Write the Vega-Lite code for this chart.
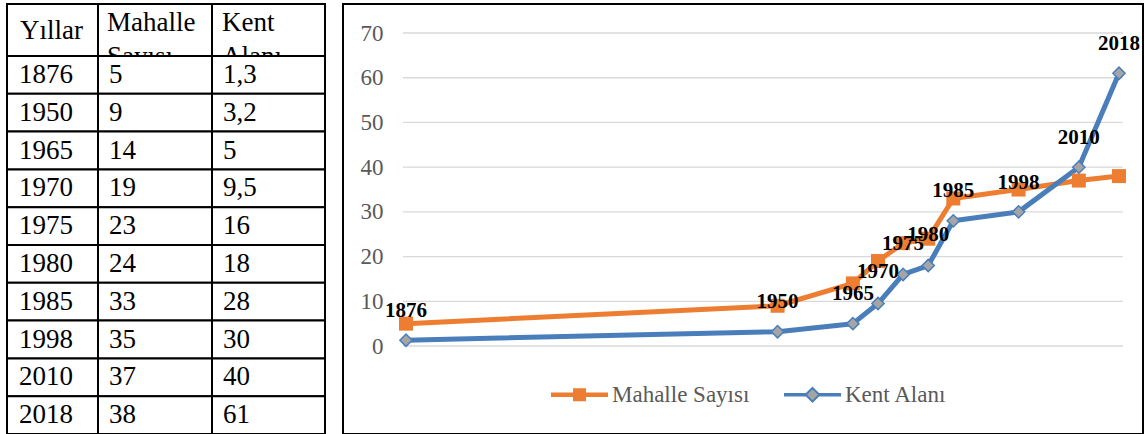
{
  "$schema": "https://vega.github.io/schema/vega-lite/v6.json",
  "padding": {"left": 5, "top": 2, "right": 0, "bottom": 0},
  "background": "white",
  "spacing": 15,
  "resolve": {"legend": {"stroke": "independent", "fill": "independent", "shape": "independent"}},
  "config": {
    "font": "Liberation Serif",
    "view": {"stroke": "black", "strokeWidth": 2},
    "legend": {"labelFont": "Liberation Serif", "labelFontSize": 23, "labelColor": "#595959"},
    "axis": {"labelFont": "Liberation Serif"},
    "locale": {"number": {"decimal": ",", "thousands": ".", "grouping": [3], "currency": ["", " TL"]}}
  },
  "datasets": {
    "veri": [
      {"yil": 1876, "Mahalle Sayısı": 5, "Kent Alanı": 1.3},
      {"yil": 1950, "Mahalle Sayısı": 9, "Kent Alanı": 3.2},
      {"yil": 1965, "Mahalle Sayısı": 14, "Kent Alanı": 5},
      {"yil": 1970, "Mahalle Sayısı": 19, "Kent Alanı": 9.5},
      {"yil": 1975, "Mahalle Sayısı": 23, "Kent Alanı": 16},
      {"yil": 1980, "Mahalle Sayısı": 24, "Kent Alanı": 18},
      {"yil": 1985, "Mahalle Sayısı": 33, "Kent Alanı": 28},
      {"yil": 1998, "Mahalle Sayısı": 35, "Kent Alanı": 30},
      {"yil": 2010, "Mahalle Sayısı": 37, "Kent Alanı": 40},
      {"yil": 2018, "Mahalle Sayısı": 38, "Kent Alanı": 61}
    ]
  },
  "hconcat": [
    {
      "spacing": 0,
      "bounds": "flush",
      "vconcat": [
        {
          "width": 318,
          "height": 52,
          "data": {"values": [{"baslik": "Yıllar"}]},
          "layer": [
            {"mark": {"type": "rect", "fill": "white", "stroke": "black", "strokeWidth": 2},
             "encoding": {"x": {"datum": 0, "type": "quantitative", "scale": {"domain": [0, 1, 2, 3], "range": [0, 91, 205, 318], "nice": false, "zero": false}, "axis": null}, "x2": {"datum": 1}}},
            {"mark": {"type": "rect", "fill": "white", "stroke": "black", "strokeWidth": 2},
             "encoding": {"x": {"datum": 1, "type": "quantitative"}, "x2": {"datum": 2}}},
            {"mark": {"type": "rect", "fill": "white", "stroke": "black", "strokeWidth": 2},
             "encoding": {"x": {"datum": 2, "type": "quantitative"}, "x2": {"datum": 3}}},
            {"mark": {"type": "text", "align": "left", "baseline": "alphabetic", "fontSize": 27, "fill": "black", "dx": 13, "dy": 9, "clip": true},
             "encoding": {"x": {"datum": 0, "type": "quantitative"}, "text": {"value": "Yıllar"}}},
            {"mark": {"type": "text", "align": "left", "baseline": "alphabetic", "fontSize": 27, "fill": "black", "dx": 9, "dy": 1, "lineHeight": 34, "clip": true},
             "encoding": {"x": {"datum": 1, "type": "quantitative"}, "text": {"value": ["Mahalle", "Sayısı"]}}},
            {"mark": {"type": "text", "align": "left", "baseline": "alphabetic", "fontSize": 27, "fill": "black", "dx": 10, "dy": 1, "lineHeight": 34, "clip": true},
             "encoding": {"x": {"datum": 2, "type": "quantitative"}, "text": {"value": ["Kent", "Alanı"]}}}
          ]
        },
        {
          "width": 318,
          "height": 378,
          "data": {"name": "veri"},
          "encoding": {
            "y": {"field": "yil", "type": "ordinal", "axis": null, "scale": {"paddingInner": 0, "paddingOuter": 0}}
          },
          "layer": [
            {"mark": {"type": "rect", "fill": "white", "stroke": "black", "strokeWidth": 2},
             "encoding": {"x": {"datum": 0, "type": "quantitative", "scale": {"domain": [0, 1, 2, 3], "range": [0, 91, 205, 318], "nice": false, "zero": false}, "axis": null}, "x2": {"datum": 1}}},
            {"mark": {"type": "rect", "fill": "white", "stroke": "black", "strokeWidth": 2},
             "encoding": {"x": {"datum": 1, "type": "quantitative"}, "x2": {"datum": 2}}},
            {"mark": {"type": "rect", "fill": "white", "stroke": "black", "strokeWidth": 2},
             "encoding": {"x": {"datum": 2, "type": "quantitative"}, "x2": {"datum": 3}}},
            {"mark": {"type": "text", "align": "left", "baseline": "middle", "fontSize": 27, "fill": "black", "dx": 12},
             "encoding": {"x": {"datum": 0, "type": "quantitative"}, "text": {"field": "yil", "type": "nominal"}}},
            {"mark": {"type": "text", "align": "left", "baseline": "middle", "fontSize": 27, "fill": "black", "dx": 11},
             "encoding": {"x": {"datum": 1, "type": "quantitative"}, "text": {"field": "Mahalle Sayısı", "type": "quantitative", "format": "~g"}}},
            {"mark": {"type": "text", "align": "left", "baseline": "middle", "fontSize": 27, "fill": "black", "dx": 11},
             "encoding": {"x": {"datum": 2, "type": "quantitative"}, "text": {"field": "Kent Alanı", "type": "quantitative", "format": "~g"}}}
          ]
        }
      ]
    },
    {
      "width": 800,
      "height": 430,
      "data": {"name": "veri"},
      "layer": [
        {
          "data": {"values": [{"deger": 0}, {"deger": 10}, {"deger": 20}, {"deger": 30}, {"deger": 40}, {"deger": 50}, {"deger": 60}, {"deger": 70}]},
          "mark": {"type": "rule", "color": "#d9d9d9", "strokeWidth": 1.3},
          "encoding": {
            "y": {"field": "deger", "type": "quantitative",
                  "scale": {"domain": [-19.68, 76.49], "nice": false, "zero": false},
                  "axis": {"values": [0, 10, 20, 30, 40, 50, 60, 70], "title": null, "domain": false, "ticks": false, "tickSize": 0, "grid": false,
                           "labelFont": "Liberation Serif", "labelFontSize": 23, "labelColor": "#595959", "labelPadding": 0, "offset": -40,
                           "labelAlign": "right", "labelBaseline": "middle"}},
            "x": {"datum": 1875.4, "type": "quantitative", "scale": {"domain": [1863.45, 2022.78], "nice": false, "zero": false}, "axis": null},
            "x2": {"datum": 2018.8}
          }
        },
        {
          "mark": {"type": "line", "strokeWidth": 5, "strokeJoin": "round", "stroke": "#ED7D31"},
          "encoding": {"x": {"field": "yil", "type": "quantitative"}, "y": {"field": "Mahalle Sayısı", "type": "quantitative"}}
        },
        {
          "mark": {"type": "line", "strokeWidth": 5, "strokeJoin": "round", "stroke": "#4A7EBB"},
          "encoding": {"x": {"field": "yil", "type": "quantitative"}, "y": {"field": "Kent Alanı", "type": "quantitative"}}
        },
        {
          "mark": {"type": "point", "shape": "square", "filled": true, "size": 196, "fill": "#ED7D31", "strokeWidth": 0, "opacity": 1},
          "encoding": {"x": {"field": "yil", "type": "quantitative"}, "y": {"field": "Mahalle Sayısı", "type": "quantitative"}}
        },
        {
          "mark": {"type": "point", "shape": "diamond", "filled": true, "size": 150, "fill": "#A5A5A5", "stroke": "#4A7EBB", "strokeWidth": 1.5, "opacity": 1},
          "encoding": {"x": {"field": "yil", "type": "quantitative"}, "y": {"field": "Kent Alanı", "type": "quantitative"}}
        },
        {
          "transform": [{"fold": ["Mahalle Sayısı", "Kent Alanı"], "as": ["seri", "deger"]}],
          "mark": {"type": "point", "filled": true, "size": 3025, "strokeWidth": 2, "opacity": 0},
          "encoding": {
            "x": {"field": "yil", "type": "quantitative"},
            "y": {"field": "deger", "type": "quantitative"},
            "stroke": {"field": "seri", "type": "nominal",
                       "scale": {"domain": ["Mahalle Sayısı", "Kent Alanı"], "range": ["#ED7D31", "#4A7EBB"]}},
            "fill": {"field": "seri", "type": "nominal",
                     "scale": {"domain": ["Mahalle Sayısı", "Kent Alanı"], "range": ["#ED7D31", "#A5A5A5"]}},
            "shape": {"field": "seri", "type": "nominal",
                      "scale": {"domain": ["Mahalle Sayısı", "Kent Alanı"],
                                "range": ["M-1,-0.045H1V0.045H-1Z M-0.2,-0.2H0.2V0.2H-0.2Z",
                                          "M-1,-0.03H-0.25V0.03H-1Z M0,-0.25L0.25,0L0,0.25L-0.25,0Z M0.25,-0.03H1V0.03H0.25Z"]},
                      "legend": {
                        "orient": "none", "legendX": 208, "legendY": 362, "direction": "horizontal", "title": null,
                        "labelFont": "Liberation Serif", "labelFontSize": 23, "labelColor": "#595959", "labelOffset": 4,
                        "columnPadding": 31, "symbolSize": 3025, "symbolStrokeWidth": 2, "symbolOpacity": 1, "padding": 0, "zindex": 1
                      }}
          }
        },
        {
          "transform": [{"filter": {"field": "yil", "oneOf": [1876]}}],
          "mark": {"type": "text", "fontWeight": "bold", "fontSize": 21, "fill": "black", "align": "center", "baseline": "middle", "dy": -13},
          "encoding": {"x": {"field": "yil", "type": "quantitative"}, "y": {"field": "Mahalle Sayısı", "type": "quantitative"}, "text": {"field": "yil", "type": "nominal"}}
        },
        {
          "transform": [{"filter": {"field": "yil", "oneOf": [1950, 1980]}}],
          "mark": {"type": "text", "fontWeight": "bold", "fontSize": 21, "fill": "black", "align": "center", "baseline": "middle", "dy": -4},
          "encoding": {"x": {"field": "yil", "type": "quantitative"}, "y": {"field": "Mahalle Sayısı", "type": "quantitative"}, "text": {"field": "yil", "type": "nominal"}}
        },
        {
          "transform": [{"filter": {"field": "yil", "oneOf": [1985, 1998]}}],
          "mark": {"type": "text", "fontWeight": "bold", "fontSize": 21, "fill": "black", "align": "center", "baseline": "middle", "dy": -7},
          "encoding": {"x": {"field": "yil", "type": "quantitative"}, "y": {"field": "Mahalle Sayısı", "type": "quantitative"}, "text": {"field": "yil", "type": "nominal"}}
        },
        {
          "transform": [{"filter": {"field": "yil", "oneOf": [1975]}}],
          "mark": {"type": "text", "fontWeight": "bold", "fontSize": 21, "fill": "black", "align": "center", "baseline": "middle", "dy": 1},
          "encoding": {"x": {"field": "yil", "type": "quantitative"}, "y": {"field": "Mahalle Sayısı", "type": "quantitative"}, "text": {"field": "yil", "type": "nominal"}}
        },
        {
          "transform": [{"filter": {"field": "yil", "oneOf": [1965, 1970]}}],
          "mark": {"type": "text", "fontWeight": "bold", "fontSize": 21, "fill": "black", "align": "center", "baseline": "middle", "dy": 11},
          "encoding": {"x": {"field": "yil", "type": "quantitative"}, "y": {"field": "Mahalle Sayısı", "type": "quantitative"}, "text": {"field": "yil", "type": "nominal"}}
        },
        {
          "transform": [{"filter": {"field": "yil", "oneOf": [2010, 2018]}}],
          "mark": {"type": "text", "fontWeight": "bold", "fontSize": 21, "fill": "black", "align": "center", "baseline": "middle", "dy": -29.5},
          "encoding": {"x": {"field": "yil", "type": "quantitative"}, "y": {"field": "Kent Alanı", "type": "quantitative"}, "text": {"field": "yil", "type": "nominal"}}
        }
      ]
    }
  ]
}
